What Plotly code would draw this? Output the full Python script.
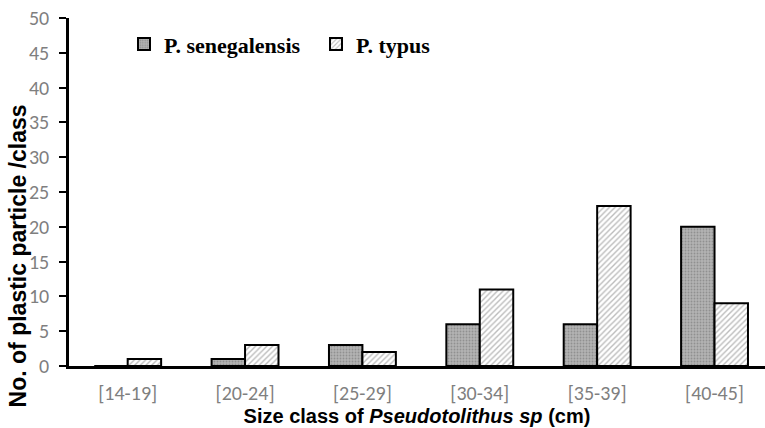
import plotly.graph_objects as go

categories = ["[14-19]", "[20-24]", "[25-29]", "[30-34]", "[35-39]", "[40-45]"]
senegalensis = [0, 1, 3, 6, 6, 20]
typus = [1, 3, 2, 11, 23, 9]
y_ticks = [0, 5, 10, 15, 20, 25, 30, 35, 40, 45, 50]

fig = go.Figure()
fig.add_trace(go.Bar(
    x=categories, y=senegalensis, name="<b>P. senegalensis</b>",
    marker=dict(color="#a6a6a6", line=dict(color="black", width=2),
                pattern=dict(shape=".", fgcolor="#6e6e6e", bgcolor="#b3b3b3", size=3, solidity=0.3)),
))
fig.add_trace(go.Bar(
    x=categories, y=typus, name="<b>P. typus</b>",
    marker=dict(color="white", line=dict(color="black", width=2),
                pattern=dict(shape="/", fgcolor="#7a7a7a", bgcolor="white", size=4, solidity=0.35)),
))

fig.update_layout(
    width=765, height=428,
    margin=dict(l=69, r=0, t=18, b=62),
    plot_bgcolor="white", paper_bgcolor="white",
    barmode="group", bargap=0.43, bargroupgap=0,
    legend=dict(orientation="h", x=0.079, y=0.985, xanchor="left", yanchor="top",
                font=dict(family="Liberation Serif", size=22, color="black"),
                itemwidth=30, entrywidth=147, traceorder="normal", bgcolor="rgba(0,0,0,0)"),
    xaxis=dict(
        range=[-0.5, 5.43], showline=True, linecolor="black", linewidth=2.5,
        ticks="", ticklabelstandoff=7,
        tickfont=dict(family="Carlito, Liberation Sans", size=20, color="#7f7f7f"),
        title=dict(text="<b>Size class of <i>Pseudotolithus sp</i> (cm)</b>",
                   font=dict(family="Liberation Sans", size=20, color="black"), standoff=0),
    ),
    yaxis=dict(
        range=[0, 50], tickvals=y_ticks, showline=True, linecolor="black", linewidth=2.5,
        ticks="outside", ticklen=7, tickwidth=2, tickcolor="black", showgrid=False, zeroline=False,
        ticklabelstandoff=6,
        tickfont=dict(family="Carlito, Liberation Sans", size=20, color="#7f7f7f"),
    ),
    annotations=[dict(
        text="<b>No. of plastic particle /class</b>", textangle=-90,
        xref="paper", yref="paper", x=-51 / 696, y=0.315, xanchor="center", yanchor="middle",
        showarrow=False, font=dict(family="Liberation Sans", size=23, color="black"),
    )],
)

fig.write_html("out.html", config={"displayModeBar": False},
               post_script="document.body.style.margin='0';document.body.style.overflow='hidden';")
